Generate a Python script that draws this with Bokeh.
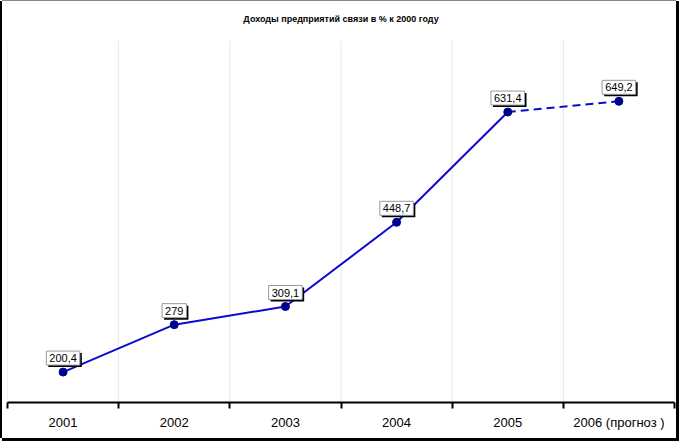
from bokeh.plotting import figure
from bokeh.models import FixedTicker, ColumnDataSource
from bokeh.core.properties import value
from bokeh.embed import file_html
from bokeh.resources import INLINE

years = ["2001", "2002", "2003", "2004", "2005", "2006 (прогноз )"]
values = [200.4, 279, 309.1, 448.7, 631.4, 649.2]
value_labels = ["200,4", "279", "309,1", "448,7", "631,4", "649,2"]
title_text = "Доходы предприятий связи в % к 2000 году"

xs = list(range(len(years)))
boundaries = [i - 0.5 for i in range(len(years) + 1)]
y_lo, y_hi = 150, 750
# frame extends 39px above the plotting area (362px tall) to hold the title
y_top = y_hi + (y_hi - y_lo) * 39 / 362

p = figure(width=674, height=437, output_backend="svg", toolbar_location=None,
           title=None,
           x_range=(-0.5, len(years) - 0.5), y_range=(y_lo, y_top),
           min_border_left=5, min_border_right=2, min_border_top=0, min_border_bottom=36)
p.styles = {"margin-left": "2px", "margin-top": "1px",
            "box-shadow": "-2px 0 0 0 #000, 0 -1px 0 0 #888, 3px 0 0 0 #000, "
                          "0 3px 0 0 #000, 3px 3px 0 0 #000"}

p.outline_line_color = None
p.background_fill_color = "white"
p.border_fill_color = "white"

p.yaxis.visible = False
p.ygrid.visible = False
p.xgrid.visible = False

ax = p.xaxis[0]
ax.ticker = FixedTicker(ticks=xs, minor_ticks=boundaries)
ax.major_label_overrides = {i: y for i, y in enumerate(years)}
ax.major_tick_out = 0
ax.major_tick_in = 0
ax.minor_tick_out = 6
ax.minor_tick_in = 0
ax.minor_tick_line_color = "black"
ax.minor_tick_line_width = 2
ax.axis_line_color = "black"
ax.axis_line_width = 2
ax.major_label_text_font = "Liberation Sans"
ax.major_label_text_font_size = "13px"
ax.major_label_text_color = "black"
ax.major_label_standoff = 6

# vertical category separators (grid) spanning the plotting area only
p.segment(x0=boundaries, y0=[y_lo] * len(boundaries), x1=boundaries,
          y1=[y_hi] * len(boundaries), line_color="#e8e8e8", line_width=1)

# title
p.text(x=[(len(years) - 1) / 2], y=[y_hi], text=[title_text], y_offset=-22,
       text_align="center", text_baseline="middle",
       text_font=value("Liberation Sans"), text_font_size="9px",
       text_font_style="bold", text_color="black")

p.line(xs[:5], values[:5], line_color="#0a0ad0", line_width=2)
p.line(xs[4:], values[4:], line_color="#0a0ad0", line_width=2, line_dash="8 5")
p.scatter(xs, values, size=8, fill_color="#000090", line_color="#000090")

src = ColumnDataSource(dict(x=xs, y=values, t=value_labels))
p.text(x="x", y="y", text="t", source=src, x_offset=2, y_offset=-5,
       text_align="center", text_baseline="bottom", text_font_size="11px",
       text_font=value("Liberation Sans"), text_color="black",
       background_fill_color="black", padding=3)
p.text(x="x", y="y", text="t", source=src, x_offset=0, y_offset=-7,
       text_align="center", text_baseline="bottom", text_font_size="11px",
       text_font=value("Liberation Sans"), text_color="black",
       background_fill_color="white", border_line_color="#999999", padding=3)

open("out.html", "w").write(file_html(p, INLINE))
